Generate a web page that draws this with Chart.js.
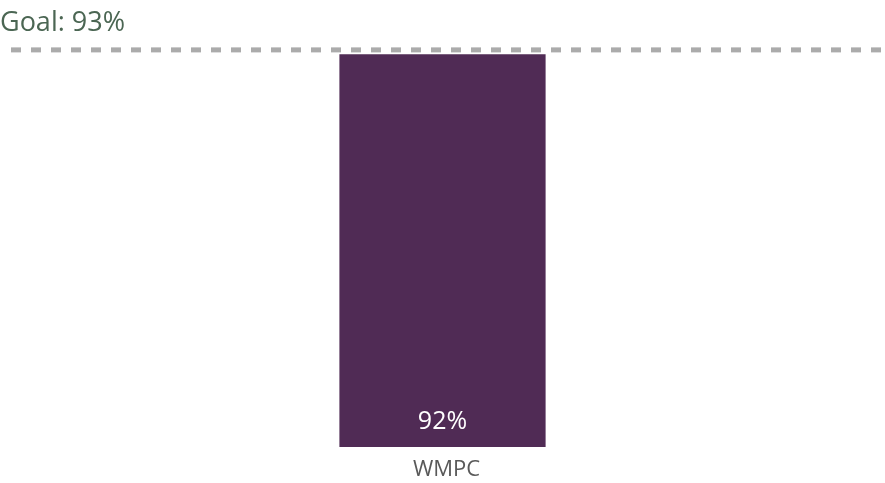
<!DOCTYPE html>
<html>
<head>
<meta charset="utf-8">
<script src="https://cdn.jsdelivr.net/npm/chart.js@4.4.0/dist/chart.umd.min.js"></script>
<style>
  html, body { margin: 0; padding: 0; background: #fff; }
  #wrap { width: 885px; height: 483px; }
</style>
</head>
<body>
<div id="wrap"><canvas id="chart"></canvas></div>
<script>
const categories = ['WMPC'];
const values = [92];
const goalValue = 93;
const goalLabel = 'Goal: 93%';

// goal line + text, value labels inside the bars
const goalPlugin = {
    id: 'goalLine',
    afterDatasetsDraw(chart) {
        const ctx = chart.ctx;
        const y = chart.scales.y.getPixelForValue(goalValue);
        ctx.save();
        ctx.strokeStyle = '#ababab';
        ctx.lineWidth = 5;
        ctx.setLineDash([10, 10]);
        ctx.beginPath();
        ctx.moveTo(11, y);
        ctx.lineTo(chart.width, y);
        ctx.stroke();
        ctx.setLineDash([]);

        ctx.fillStyle = '#4b6653';
        ctx.font = '27px "Open Sans"';
        ctx.textAlign = 'left';
        ctx.textBaseline = 'middle';
        ctx.fillText(goalLabel, 0, 23);

        const meta = chart.getDatasetMeta(0);
        ctx.fillStyle = '#ffffff';
        ctx.textAlign = 'center';
        ctx.font = '25px "Open Sans"';
        meta.data.forEach((bar, i) => {
            ctx.fillText(values[i] + '%', bar.x, bar.base - 25);
        });
        ctx.restore();
    }
};

const data = {
    labels: categories,
    datasets: [{
            data: values,
            backgroundColor: '#502b55',
            barPercentage: 0.233,
            categoryPercentage: 1
        }]
};

const config = {
    type: 'bar',
    data: data,
    options: {
        responsive: true,
        maintainAspectRatio: false,
        animation: false,
        layout: {
            padding: {top: 20, bottom: 0, left: 0, right: 0}
        },
        plugins: {
            legend: {display: false},
            tooltip: {enabled: false}
        },
        scales: {
            x: {
                grid: {display: false, drawTicks: false},
                border: {display: false},
                afterFit(axis) {
                    axis.height = 36;
                },
                ticks: {
                    color: '#595959',
                    padding: 12,
                    labelOffset: 4,
                    font: {family: 'Open Sans', size: 22, lineHeight: 1}
                }
            },
            y: {
                display: false,
                min: 0,
                max: 100
            }
        }
    },
    plugins: [goalPlugin]
};
let ctx = document.getElementById('chart').getContext('2d')
new Chart(ctx, config)
</script>
</body>
</html>
